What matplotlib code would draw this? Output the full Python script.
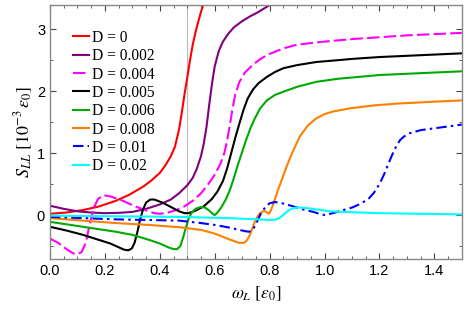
import matplotlib
matplotlib.use("Agg")
import matplotlib.pyplot as plt
from matplotlib.ticker import MultipleLocator

plt.rcParams['mathtext.fontset'] = 'stix'

labels = ["D = 0", "D = 0.002", "D = 0.004", "D = 0.005", "D = 0.006",
          "D = 0.008", "D = 0.01", "D = 0.02"]
colors = ["#ff0000", "#800080", "#ff00ff", "#000000", "#00aa00",
          "#ff8000", "#0000ff", "#00ffff"]

x_d0 = [0.0, 0.06, 0.12, 0.18, 0.24, 0.29, 0.34, 0.37, 0.40, 0.42, 0.44, 0.455, 0.47, 0.48,
        0.49, 0.50, 0.51, 0.52, 0.53, 0.54, 0.55, 0.56]
y_d0 = [0.02, 0.04, 0.08, 0.14, 0.23, 0.33, 0.46, 0.56, 0.68, 0.80, 0.95, 1.1, 1.38, 1.65,
        1.95, 2.22, 2.5, 2.75, 2.95, 3.12, 3.28, 3.42]

x_d002 = [0.0, 0.05, 0.1, 0.15, 0.2, 0.25, 0.3, 0.35, 0.4, 0.44, 0.47, 0.50, 0.52, 0.535, 0.55,
          0.56, 0.57, 0.58, 0.59, 0.60, 0.615, 0.63, 0.65, 0.67, 0.70, 0.73, 0.76, 0.80]
y_d002 = [0.15, 0.1, 0.06, 0.04, 0.03, 0.035, 0.05, 0.1, 0.17, 0.25, 0.35, 0.48, 0.6, 0.75, 0.95,
          1.15, 1.42, 1.78, 2.12, 2.4, 2.65, 2.8, 2.93, 3.03, 3.13, 3.21, 3.28, 3.39]

x_d004 = [0.0, 0.03, 0.06, 0.085, 0.10, 0.115, 0.13, 0.14, 0.15, 0.16, 0.175, 0.195, 0.22, 0.26,
          0.30, 0.34, 0.38, 0.40, 0.43, 0.46, 0.49, 0.52, 0.55, 0.58, 0.60, 0.62, 0.635, 0.645,
          0.655, 0.665, 0.675, 0.69, 0.71, 0.74, 0.77, 0.80, 0.85, 0.9, 1.0, 1.1, 1.2, 1.3,
          1.4, 1.5]
y_d004 = [-0.38, -0.45, -0.55, -0.62, -0.63, -0.6, -0.45, -0.25, -0.05, 0.12, 0.26, 0.32, 0.3, 0.24,
          0.16, 0.09, 0.03, 0.02, 0.04, 0.08, 0.14, 0.23, 0.35, 0.52, 0.65, 0.82, 1.0, 1.2,
          1.45, 1.72, 1.95, 2.15, 2.3, 2.43, 2.53, 2.6, 2.69, 2.75, 2.8, 2.84, 2.87, 2.9,
          2.92, 2.94]

x_d005 = [0.0, 0.06, 0.12, 0.17, 0.22, 0.25, 0.27, 0.285, 0.298, 0.308, 0.318, 0.328, 0.338, 0.35,
          0.365, 0.38, 0.41, 0.44, 0.47, 0.49, 0.505, 0.53, 0.56, 0.59, 0.61, 0.63, 0.645, 0.66,
          0.675, 0.69, 0.705, 0.72, 0.74, 0.76, 0.79, 0.82, 0.85, 0.9, 0.97, 1.05, 1.1, 1.2,
          1.3, 1.4, 1.5]
y_d005 = [-0.19, -0.25, -0.32, -0.39, -0.46, -0.52, -0.56, -0.57, -0.54, -0.45, -0.28, -0.08, 0.08, 0.2,
          0.25, 0.25, 0.2, 0.13, 0.06, 0.03, 0.03, 0.07, 0.14, 0.26, 0.38, 0.55, 0.75, 1.0,
          1.25, 1.48, 1.7, 1.88, 2.03, 2.13, 2.23, 2.31, 2.37, 2.42, 2.47, 2.5, 2.52, 2.55,
          2.57, 2.59, 2.61]

x_d006 = [0.0, 0.12, 0.24, 0.30, 0.36, 0.40, 0.43, 0.45, 0.463, 0.475, 0.485, 0.495, 0.505, 0.515,
          0.53, 0.55, 0.565, 0.58, 0.595, 0.60, 0.61, 0.625, 0.64, 0.655, 0.67, 0.685, 0.70, 0.715,
          0.73, 0.745, 0.765, 0.79, 0.82, 0.85, 0.9, 0.97, 1.05, 1.1, 1.2, 1.3, 1.4, 1.5]
y_d006 = [-0.11, -0.19, -0.27, -0.32, -0.40, -0.46, -0.52, -0.55, -0.55, -0.5, -0.36, -0.2, -0.06, 0.03,
          0.1, 0.13, 0.12, 0.07, 0.01, 0.0, 0.04, 0.13, 0.25, 0.4, 0.6, 0.82, 1.02, 1.22,
          1.40, 1.55, 1.72, 1.85, 1.94, 1.99, 2.07, 2.15, 2.2, 2.22, 2.26, 2.28, 2.3, 2.32]

x_d008 = [0.0, 0.12, 0.24, 0.36, 0.48, 0.55, 0.60, 0.64, 0.67, 0.69, 0.705, 0.715, 0.725, 0.735,
          0.745, 0.755, 0.765, 0.775, 0.785, 0.797, 0.805, 0.815, 0.83, 0.845, 0.86, 0.875, 0.89,
          0.91, 0.94, 0.97, 1.0, 1.03, 1.09, 1.18, 1.27, 1.4, 1.5]
y_d008 = [-0.05, -0.09, -0.13, -0.16, -0.2, -0.24, -0.3, -0.37, -0.42, -0.45, -0.45, -0.42, -0.35, -0.24,
          -0.12, -0.03, 0.03, 0.06, 0.06, 0.02, 0.08, 0.2, 0.4, 0.58, 0.76, 0.93, 1.08,
          1.27, 1.45, 1.56, 1.63, 1.67, 1.72, 1.77, 1.80, 1.83, 1.85]

x_d01 = [0.0, 0.24, 0.47, 0.55, 0.6, 0.65, 0.68, 0.71, 0.725, 0.738, 0.75, 0.76, 0.77, 0.785, 0.80,
         0.82, 0.845, 0.87, 0.9, 0.93, 0.96, 0.98, 1.0, 1.03, 1.06, 1.1, 1.13, 1.16, 1.18, 1.2,
         1.215, 1.23, 1.245, 1.26, 1.275, 1.29, 1.31, 1.35, 1.4, 1.45, 1.5]
y_d01 = [-0.03, -0.07, -0.09, -0.13, -0.16, -0.2, -0.23, -0.26, -0.27, -0.24, -0.15, -0.05, 0.04, 0.13, 0.19,
         0.21, 0.19, 0.16, 0.12, 0.08, 0.05, 0.02, 0.0, 0.03, 0.07, 0.12, 0.18, 0.26, 0.36, 0.5,
         0.64, 0.8, 0.96, 1.1, 1.21, 1.27, 1.32, 1.37, 1.40, 1.43, 1.46]

x_d02 = [0.0, 0.24, 0.47, 0.65, 0.76, 0.80, 0.82, 0.835, 0.85, 0.862, 0.875, 0.89, 0.91, 0.94,
         0.97, 1.02, 1.1, 1.2, 1.35, 1.5]
y_d02 = [-0.01, -0.02, -0.03, -0.05, -0.07, -0.08, -0.075, -0.05, 0.0, 0.05, 0.09, 0.115, 0.12, 0.11,
         0.09, 0.06, 0.045, 0.03, 0.02, 0.01]

series = [(x_d0, y_d0), (x_d002, y_d002), (x_d004, y_d004), (x_d005, y_d005),
          (x_d006, y_d006), (x_d008, y_d008), (x_d01, y_d01), (x_d02, y_d02)]
styles = ['-', '-', (0, (6, 2)), '-', '-', '-', (0, (5, 2, 1.2, 2)), '-']

fig = plt.figure(figsize=(4.67, 3.13), dpi=100)
ax = fig.add_axes([0.107, 0.1725, 0.882, 0.8115])

ax.axvline(0.5, color='#bbbbbb', lw=0.8, zorder=0)
for (xs, ys), c, ls, lab in zip(series, colors, styles, labels):
    ax.plot(xs, ys, color=c, ls=ls, lw=1.5, label=lab)

ax.set_xlim(0, 1.5)
ax.set_ylim(-0.71, 3.39)
ax.xaxis.set_major_locator(MultipleLocator(0.2))
ax.xaxis.set_minor_locator(MultipleLocator(0.05))
ax.yaxis.set_major_locator(MultipleLocator(1))
ax.yaxis.set_minor_locator(MultipleLocator(0.5))
ax.tick_params(which='both', direction='in', top=True, right=True, color='#444444')
ax.tick_params(which='major', length=4, width=0.8, labelsize=10.5)
ax.tick_params(which='minor', length=2.5, width=0.6)
for lab in ax.get_xticklabels() + ax.get_yticklabels():
    lab.set_fontfamily('Liberation Sans')
for s in ax.spines.values():
    s.set_color('#888888')
    s.set_linewidth(1.0)

ax.set_xlabel(r'$\omega_L\ [\epsilon_0]$', fontsize=12.5, labelpad=5)
ax.set_ylabel(r'$S_{LL}\ [\mathit{10}^{-3}\,\epsilon_0]$', fontsize=13, labelpad=1)

leg = ax.legend(loc='upper left', bbox_to_anchor=(0.056, 0.902), frameon=False,
                handlelength=1.05, handletextpad=0.2, labelspacing=0.15, borderaxespad=0,
                borderpad=0, prop={'family': 'Liberation Serif', 'size': 11.2})

fig.savefig('out.png', dpi=100)
